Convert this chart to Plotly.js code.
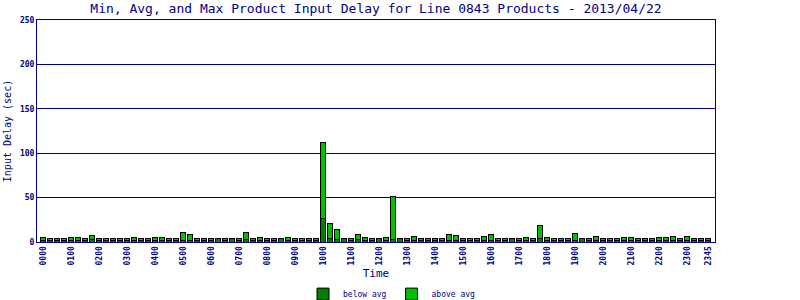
<!DOCTYPE html>
<html>
<head>
<meta charset="utf-8">
<script src="https://cdn.plot.ly/plotly-3.0.1.min.js"></script>
<style>html,body{margin:0;padding:0;background:#fff;}#chart{width:800px;height:300px;}</style>
</head>
<body>
<div id="chart"></div>
<script>
const times = ["0000","0015","0030","0045","0100","0115","0130","0145","0200","0215","0230","0245",
"0300","0315","0330","0345","0400","0415","0430","0445","0500","0515","0530","0545",
"0600","0615","0630","0645","0700","0715","0730","0745","0800","0815","0830","0845",
"0900","0915","0930","0945","1000","1015","1030","1045","1100","1115","1130","1145",
"1200","1215","1230","1245","1300","1315","1330","1345","1400","1415","1430","1445",
"1500","1515","1530","1545","1600","1615","1630","1645","1700","1715","1730","1745",
"1800","1815","1830","1845","1900","1915","1930","1945","2000","2015","2030","2045",
"2100","2115","2130","2145","2200","2215","2230","2245","2300","2315","2330","2345"];

const belowAvg = [2,2,2,2,2,2,2,2.5,2,2,2,2,
2,2,2,2,2,2,2,2,2,2,2,2,
2,3.5,2,3.5,2,3,2,2,2,2,3.5,2,
2,2,2,2,26,4,3,3.5,2,3,2,2,
3.5,2,3,3.5,2,2,2,2,2,2,2,2,
2,2,2,2,2,2,2,3.5,2,2,2,4,
2,2,2,2,2,3.5,2,2,2,2,2,2,
2,2,2,2,2,2,2,2,2,2,2,2];

const aboveAvg = [3.3,2,2,2,3.3,3.3,2,5,2,2,2,2,
2,3.3,2,2,3.3,3.3,2,2,8.9,6.6,2,2,
2,0.5,2,0.5,2,7.9,2,3.3,2,2,0.5,3.3,
2,2,2,2,86.6,16.5,11.6,0.5,2,6,3.3,2,
0.5,3.3,48.8,0.5,2,4.4,2,2,2,2,7,5.5,
2,2,2,4.4,7,2,2,0.5,2,3.3,2,15,
3.3,2,2,2,8.1,0.5,2,4.4,2,2,2,3.3,
3.3,2,2,2,3.3,3.3,4.4,2,4.4,2,2,2];

const tickLabels = ["0000","0100","0200","0300","0400","0500","0600","0700","0800","0900","1000","1100",
"1200","1300","1400","1500","1600","1700","1800","1900","2000","2100","2200","2300","2345"];

const navy = "#000080";
const mono = "DejaVu Sans Mono, monospace";

const traces = [
  {type: "bar", name: "below avg", x: times, y: belowAvg,
   marker: {color: "#008000", line: {color: "#000000", width: 1}}, hoverinfo: "x+y"},
  {type: "bar", name: "above avg", x: times, y: aboveAvg,
   marker: {color: "#00c000", line: {color: "#000000", width: 1}}, hoverinfo: "x+y"}
];

const layout = {
  width: 800, height: 300,
  margin: {l: 37, r: 85, t: 20, b: 58, pad: 0, autoexpand: false},
  paper_bgcolor: "#ffffff", plot_bgcolor: "#ffffff",
  barmode: "stack", bargap: 0.15,
  title: {text: "Min, Avg, and Max Product Input Delay for Line 0843 Products - 2013/04/22",
          font: {family: mono, size: 13, color: navy}, x: 0.47, xanchor: "center", y: 0.972, yanchor: "middle"},
  xaxis: {type: "category", range: [-0.86, 96], tickmode: "array", tickvals: tickLabels, ticktext: tickLabels,
          tickangle: -90, tickfont: {family: mono, size: 8, color: navy, weight: "bold"},
          showline: true, linecolor: navy, linewidth: 1, mirror: true, showgrid: false, ticks: "",
          title: {text: "Time", font: {family: mono, size: 11, color: navy}, standoff: 8},
          automargin: true, fixedrange: true},
  yaxis: {range: [0, 250], dtick: 50, tickfont: {family: mono, size: 8, color: navy, weight: "bold"},
          showline: true, linecolor: navy, linewidth: 1, mirror: true, showgrid: true, gridcolor: navy, gridwidth: 1,
          zeroline: false, ticks: "",
          title: {text: "Input Delay (sec)", font: {family: mono, size: 10, color: navy}, standoff: 6},
          automargin: false, fixedrange: true},
  showlegend: true,
  legend: {orientation: "h", x: 0.49, xanchor: "center", xref: "container", y: 0.068, yanchor: "top", yref: "container",
           font: {family: mono, size: 8, color: navy}, traceorder: "normal", itemwidth: 30,
           tracegroupgap: 0, bgcolor: "rgba(0,0,0,0)"},
};

Plotly.newPlot("chart", traces, layout, {displayModeBar: false, staticPlot: true});
</script>
</body>
</html>
